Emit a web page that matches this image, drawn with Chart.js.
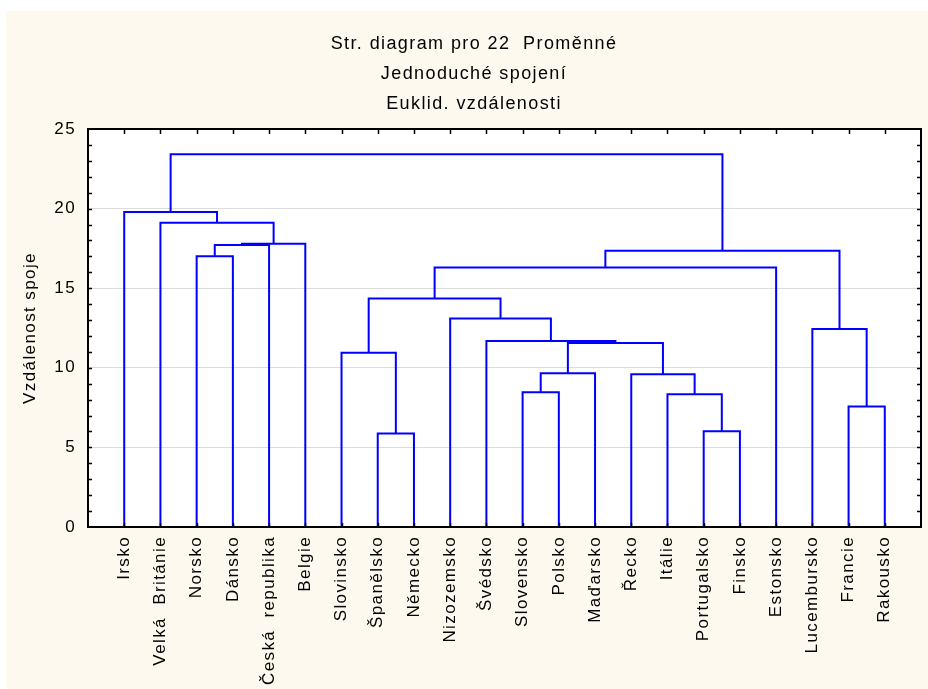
<!DOCTYPE html>
<html>
<head>
<meta charset="utf-8">
<script src="https://cdn.jsdelivr.net/npm/chart.js@4/dist/chart.umd.min.js"></script>
<style>
  html, body { margin: 0; padding: 0; background: #ffffff; }
  canvas { display: block; }
</style>
</head>
<body>
<canvas id="tree" width="928" height="689"></canvas>
<script>
// Leaves of the tree, in drawing order
const countries = [
  'Irsko', 'Velká  Británie', 'Norsko', 'Dánsko', 'Česká  republika', 'Belgie',
  'Slovinsko', 'Španělsko', 'Německo', 'Nizozemsko', 'Švédsko', 'Slovensko',
  'Polsko', 'Maďarsko', 'Řecko', 'Itálie', 'Portugalsko', 'Finsko',
  'Estonsko', 'Lucembursko', 'Francie', 'Rakousko'
];

// Joins: ids 0..21 are countries, id 22+k is the cluster made by join k
const joinLeft  = [7, 16, 20, 15, 11, 14, 26, 6, 28, 10, 19, 9, 29, 34, 2, 36, 35, 37, 1, 0, 41];
const joinRight = [8, 17, 21, 23, 12, 25, 13, 22, 27, 30, 24, 31, 33, 18, 3, 4, 32, 5, 39, 40, 38];
const joinDist  = [5.87, 6.02, 7.57, 8.34, 8.47, 9.60, 9.66, 10.94, 11.55, 11.69, 12.43,
                   13.10, 14.36, 16.30, 17.01, 17.71, 17.35, 17.79, 19.11, 19.78, 23.42];

const yTicks = [0, 5, 10, 15, 20, 25];
const titleLines = ['Str. diagram pro 22  Proměnné', 'Jednoduché spojení', 'Euklid. vzdálenosti'];
const axisTitle = 'Vzdálenost spoje';

// Node positions: a leaf sits at its index, a cluster midway between its two children
const nodeX = countries.map((_, i) => i);
const nodeY = countries.map(() => 0);
const datasets = joinDist.map((d, k) => {
  const a = joinLeft[k], b = joinRight[k];
  nodeX.push((nodeX[a] + nodeX[b]) / 2);
  nodeY.push(d);
  return {
    data: [
      { x: nodeX[a], y: nodeY[a] },
      { x: nodeX[a], y: d },
      { x: nodeX[b], y: d },
      { x: nodeX[b], y: nodeY[b] }
    ],
    showLine: true,
    borderColor: '#0000ff',
    borderWidth: 2,
    pointRadius: 0,
    pointHoverRadius: 0,
    tension: 0,
    fill: false
  };
});

const SPACING = '1.4px';

const panel = {
  id: 'panel',
  beforeUpdate(chart) { chart.ctx.letterSpacing = SPACING; },
  beforeDraw(chart) {
    const { ctx, chartArea: a } = chart;
    ctx.letterSpacing = SPACING;
    ctx.save();
    ctx.fillStyle = '#ffffff';
    ctx.fillRect(0, 0, chart.width, chart.height);
    ctx.fillStyle = '#fef9ee';
    ctx.fillRect(6, 11, chart.width - 6, chart.height - 11);
    ctx.fillStyle = '#ffffff';
    ctx.fillRect(a.left, a.top, a.right - a.left, a.bottom - a.top);
    ctx.restore();
  },
  afterDatasetsDraw(chart) {
    const { ctx, chartArea: a, scales } = chart;
    const xs = scales.x, ys = scales.y;
    ctx.save();
    ctx.strokeStyle = '#000000';
    ctx.lineWidth = 1.5;
    ctx.beginPath();
    // minor ticks on left and right edges, one per unit
    for (let v = 1; v < 25; v++) {
      const y = Math.round(ys.getPixelForValue(v)) + 0.5;
      ctx.moveTo(a.left, y); ctx.lineTo(a.left + 4, y);
      ctx.moveTo(a.right, y); ctx.lineTo(a.right - 4, y);
    }
    // ticks at every country on top and bottom edges
    countries.forEach((_, i) => {
      const x = Math.round(xs.getPixelForValue(i)) + 0.5;
      ctx.moveTo(x, a.top); ctx.lineTo(x, a.top + 5);
      ctx.moveTo(x, a.bottom); ctx.lineTo(x, a.bottom - 4);
    });
    ctx.stroke();
    ctx.lineWidth = 2;
    ctx.strokeRect(a.left, a.top, a.right - a.left, a.bottom - a.top);
    ctx.restore();
  }
};

Chart.defaults.font.family = '"Liberation Sans", Arial, sans-serif';
Chart.defaults.color = '#000000';

new Chart(document.getElementById('tree'), {
  type: 'scatter',
  data: { datasets },
  options: {
    responsive: false,
    animation: false,
    events: [],
    layout: { padding: { left: 20, right: 0, top: 0, bottom: 0 } },
    plugins: {
      legend: { display: false },
      tooltip: { enabled: false },
      title: {
        display: true,
        text: titleLines,
        color: '#000000',
        font: { size: 18, weight: 'normal', lineHeight: 30 / 18 },
        padding: { top: 29, bottom: 10 }
      }
    },
    scales: {
      x: {
        type: 'linear',
        min: -1,
        max: 22,
        afterBuildTicks(scale) { scale.ticks = countries.map((_, i) => ({ value: i })); },
        afterFit(scale) { scale.height = 162; },
        grid: { display: false, drawTicks: false },
        border: { display: false },
        ticks: {
          autoSkip: false,
          minRotation: 90,
          maxRotation: 90,
          padding: 9,
          font: { size: 17 },
          color: '#000000',
          callback: (v) => countries[v]
        }
      },
      y: {
        type: 'linear',
        min: 0,
        max: 25,
        afterBuildTicks(scale) { scale.ticks = yTicks.map(v => ({ value: v })); },
        afterFit(scale) { scale.width = 68; },
        grid: { color: '#dcdcdc', lineWidth: 1, drawTicks: false },
        border: { display: false },
        ticks: { padding: 12, font: { size: 17 }, color: '#000000' },
        title: {
          display: true,
          text: axisTitle,
          color: '#000000',
          font: { size: 17 },
          padding: 0
        }
      },
      edge: {
        type: 'linear',
        position: 'right',
        display: true,
        afterFit(scale) { scale.width = 7; },
        grid: { display: false },
        border: { display: false },
        ticks: { display: false }
      }
    }
  },
  plugins: [panel]
});
</script>
</body>
</html>
